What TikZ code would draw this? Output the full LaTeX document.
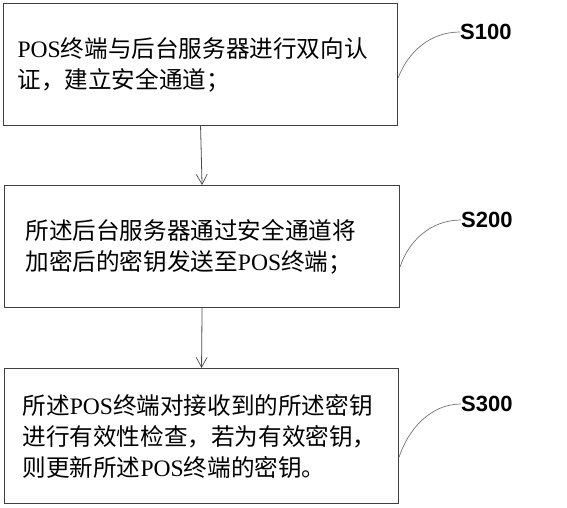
\documentclass[tikz,border=0pt]{standalone}
\usepackage{fontspec}
\setmainfont{Noto Sans CJK SC}
\newfontfamily\latf{Liberation Serif}
\newfontfamily\labf{Liberation Sans}
\usetikzlibrary{arrows.meta}
\newcommand{\POS}{{\latf POS}}
\begin{document}
\begin{tikzpicture}[x=1pt,y=-1pt,
  stepbox/.style={draw=black!75,line width=1.1pt,minimum height=#1,inner ysep=0pt,
    font=\fontsize{23.6}{31}\selectfont,align=left,anchor=north west},
  steplabel/.style={font=\labf\bfseries\fontsize{22}{24}\selectfont,inner sep=0pt,anchor=west},
  flow/.style={draw=black!70,line width=0.8pt,-{Straight Barb[length=10pt,width=11pt,line width=0.7pt]}},
  leader/.style={draw=black!55,line width=0.7pt}]
\useasboundingbox (0,0) rectangle (567,508);
\node[stepbox=122pt,text width=366pt,inner xsep=14pt] (b1) at (3,3)
  {\POS 终端与后台服务器进行双向认\\证，建立安全通道；};
\node[stepbox=122pt,text width=353pt,inner xsep=21pt] (b2) at (4,185)
  {所述后台服务器通过安全通道将\\加密后的密钥发送至\POS 终端；};
\node[stepbox=135pt,text width=358pt,inner xsep=18pt] (b3) at (4,368)
  {所述\POS 终端对接收到的所述密钥\\进行有效性检查，若为有效密钥，\\则更新所述\POS 终端的密钥。};
\node[steplabel] (l1) at (460,32) {S100};
\node[steplabel] (l2) at (461,220) {S200};
\node[steplabel] (l3) at (461,404) {S300};
\draw[flow] (b1.south) -- (b2.north);
\draw[flow] (b2.south) -- (b3.north);
\coordinate (c1) at (b1.east |- 0,78);
\coordinate (c2) at (b2.east |- 0,267);
\coordinate (c3) at (b3.east |- 0,457);
\draw[leader] (c1) .. controls (408,52) and (430,32) .. (l1.west);
\draw[leader] (c2) .. controls (408,242) and (430,220) .. (l2.west);
\draw[leader] (c3) .. controls (408,430) and (430,404) .. (l3.west);
\end{tikzpicture}
\end{document}
